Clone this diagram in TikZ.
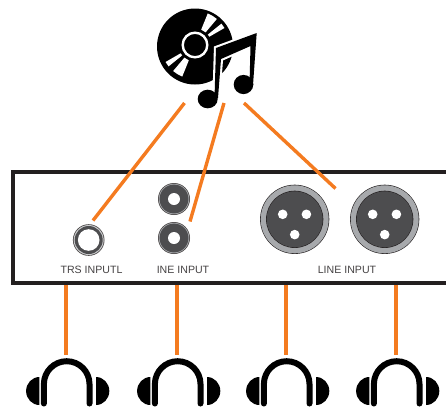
\documentclass[tikz,border=0pt]{standalone}
\usepackage{fontspec}
\setmainfont{Liberation Sans}
\definecolor{wire}{HTML}{F47B20}
\definecolor{panelc}{HTML}{231F20}
\definecolor{jackd}{HTML}{4D4D4F}
\definecolor{jackg}{HTML}{A7A9AC}
\tikzset{
  wireline/.style={draw=wire,line width=3.4pt},
  lab/.style={font=\fontsize{10.6}{12}\selectfont,text=panelc!85,inner sep=0pt},
  notepath/.style={line join=miter},
  trs/.pic={
    \fill[panelc!80] (0,0) circle (15.8);
    \fill[jackg!60] (0,0) circle (15);
    \fill[jackd] (0,0) circle (14);
    \fill[white] (0,0) circle (10.8);},
  rca/.pic={
    \fill[panelc!80] (0,0) circle (16);
    \fill[jackg] (0,0) circle (15.2);
    \fill[jackd] (0,0) circle (14.4);
    \fill[white] (0,0) circle (6);},
  xlr/.pic={
    \fill[panelc] (0,0) circle (34.6);
    \fill[jackg] (0,0) circle (34);
    \fill[panelc] (0,0) circle (28.6);
    \fill[jackd] (0,0) circle (28);
    \fill[white] (-12,-5) circle (4.8) (11.7,-5) circle (4.8) (0,15.3) circle (4.8);},
  phones/.pic={
    \draw[line width=6pt,line cap=round] (-22.8,19.5) -- (-22.8,0) arc[start angle=180,end angle=360,radius=22.8] -- (22.8,19.5);
    \fill (-27.3,-7) arc[start angle=270,end angle=90,x radius=13.3,y radius=14] -- cycle;
    \fill (29.3,-7) arc[start angle=270,end angle=450,x radius=13.3,y radius=14] -- cycle;}
}
\begin{document}
\begin{tikzpicture}[x=1pt,y=-1pt]
\useasboundingbox (0,0) rectangle (446,408);
% disc
\fill[black] (195,46.5) circle (38);
\begin{scope}[shift={(195,45)},y=1pt]
\foreach \a/\b in {68/50,39/30,248/230,219/210}{
  \fill[white] (\a:16.5) -- (\a:34) arc[start angle=\a,end angle=\b,radius=34] -- (\b:16.5) arc[start angle=\b,end angle=\a,radius=16.5] -- cycle;
}
\fill[black] (0,0) circle (15.5);
\draw[white,line width=2.4pt] (0,0) circle (12.3);
\end{scope}
% notes
\def\notes{(216,48) -- (256.7,33) -- (253,85) -- (249.5,85) -- (250.5,46) -- (221,59) -- (218,98) -- (214.5,98) -- cycle}
\draw[white,line width=4.2pt,notepath] \notes;
\fill[white] (207.7,99) ellipse (12 and 11) (243.5,84.5) ellipse (12 and 11.5);
\fill[black,notepath] \notes;
\fill[black] (207.7,99) ellipse (10 and 9.3);
\fill[black] (243.5,84.5) ellipse (9.8 and 9.6);
% panel
\draw[panelc,line width=4.4pt] (446,172) -- (13.2,172) -- (13.2,283) -- (446,283);
% jacks
\coordinate (trsj) at (88.7,240);
\coordinate (rcatop) at (174,199);
\coordinate (rcabot) at (174,238);
\coordinate (xlrl) at (294.7,219.3);
\coordinate (xlrr) at (384.7,219.3);
\pic at (trsj) {trs};
\pic at (rcatop) {rca};
\pic at (rcabot) {rca};
\pic at (xlrl) {xlr};
\pic at (xlrr) {xlr};
% labels
\node[lab] (l1) at (91.5,270) {TRS INPUTL};
\node[lab] (l2) at (183,270) {INE INPUT};
\node[lab] (l3) at (347,270) {LINE INPUT};
% top wires
\coordinate (a1) at (184.5,103); \coordinate (a2) at (93,220.5);
\coordinate (b1) at (224,103); \coordinate (b2) at (190,221.5);
\coordinate (c1) at (244,103); \coordinate (c2) at (335.5,188.5);
\draw[wireline] (a1) -- (a2);
\draw[wireline] (b1) -- (b2);
\draw[wireline] (c1) -- (c2);
% bottom wires and headphones
\foreach \n/\xx in {p/66,q/177,r/286,s/396}{
  \coordinate (\n a) at (\xx,285);
  \coordinate (\n b) at (\xx,355);
  \draw[wireline] (\n a) -- (\n b);
  \pic at (\xx+0.7,384) {phones};
}
\end{tikzpicture}
\end{document}
